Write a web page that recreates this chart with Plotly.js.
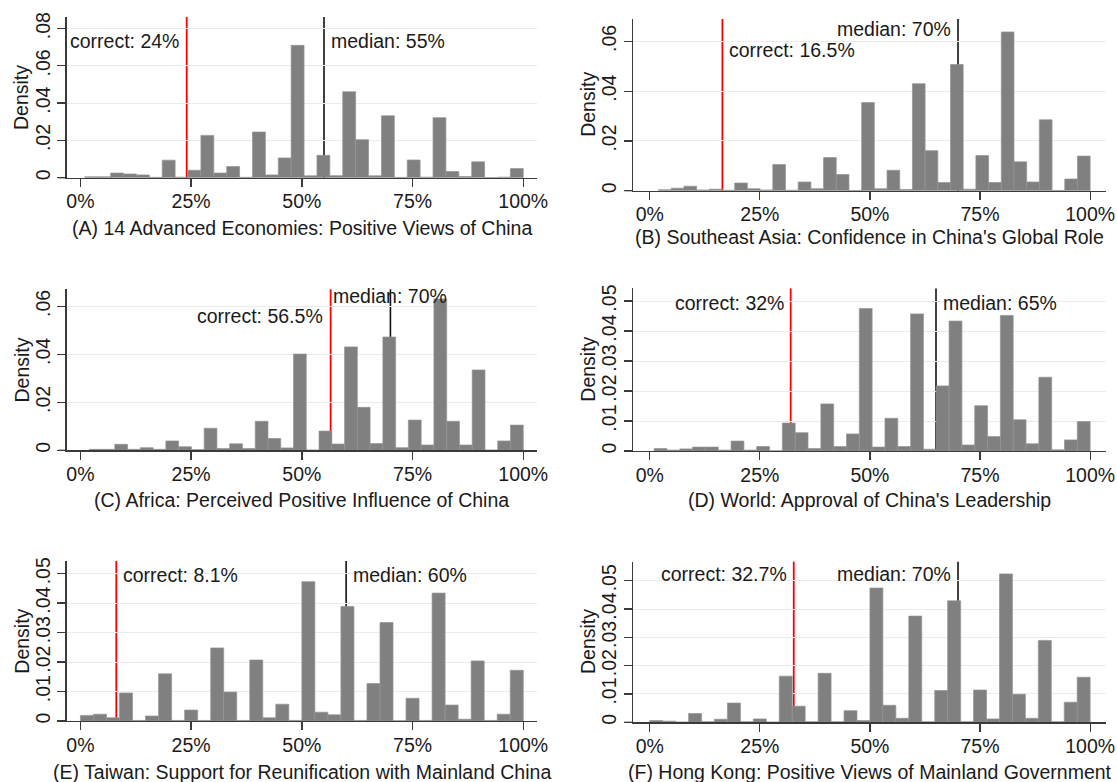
<!DOCTYPE html>
<html><head><meta charset="utf-8">
<script src="https://cdn.plot.ly/plotly-3.0.1.min.js"></script>
<style>html,body{margin:0;padding:0;background:#fff}#chart{width:1117px;height:782px}</style>
</head><body><div id="chart"></div>
<script>
// ---------------- DATA ----------------
const panelTitles = [
  "(A) 14 Advanced Economies: Positive Views of China",
  "(B) Southeast Asia: Confidence in China's Global Role",
  "(C) Africa: Perceived Positive Influence of China",
  "(D) World: Approval of China's Leadership",
  "(E) Taiwan: Support for Reunification with Mainland China",
  "(F) Hong Kong: Positive Views of Mainland Government"
];
// histogram bins: 34 equal bins from start to 100 (percent)
const binStarts = [1, 2, 2, 1, 0, 0];
const binEnd = 100;
const binCount = 34;

const densA = [0.0005,0.0005,0.0025,0.002,0.0015,0.0002,0.0094,0.0003,0.004,0.0227,0.0025,0.006,0.0002,0.0245,0.0015,0.0106,0.071,0.001,0.012,0.0011,0.0461,0.0204,0.001,0.0332,0.0002,0.0095,0.0003,0.0322,0.0033,0.0006,0.0085,0.0001,0.0003,0.0049];
const densB = [0.0004,0.001,0.0018,0.0003,0.0006,0.0002,0.0031,0.0008,0.0003,0.0105,0.0002,0.0035,0.0008,0.0133,0.0065,0.0001,0.0354,0.0008,0.0082,0.0005,0.043,0.0161,0.0033,0.0507,0.0006,0.0141,0.0033,0.0638,0.0116,0.0035,0.0285,0.0001,0.0047,0.0139];
const densC = [0.0004,0.0004,0.0025,0.0004,0.0011,0.0004,0.0039,0.0015,0.0003,0.0092,0.0007,0.0027,0.0007,0.0121,0.0049,0.001,0.0401,0.0001,0.008,0.0026,0.0431,0.0179,0.0028,0.0472,0.0011,0.0126,0.0022,0.0631,0.0121,0.0022,0.0335,0.0001,0.0039,0.0105];
const densD = [0.0008,0.0003,0.0007,0.0013,0.0013,0.0003,0.0033,0.0003,0.0015,0.0001,0.0093,0.0061,0.0008,0.0157,0.0015,0.0057,0.0475,0.0013,0.0109,0.0015,0.0457,0.0006,0.0217,0.0433,0.002,0.0151,0.0048,0.0452,0.0104,0.0024,0.0246,0.0004,0.0037,0.0098];
const densE = [0.0019,0.0023,0.0011,0.0095,0.0002,0.0017,0.016,0.0002,0.0037,0.0002,0.0248,0.0098,0.0002,0.0207,0.0011,0.0057,0.0002,0.0473,0.003,0.0021,0.0389,0.0002,0.0127,0.0334,0.0001,0.0077,0.0002,0.0434,0.0054,0.0006,0.0204,0.0002,0.0023,0.0172];
const densF = [0.0006,0.0004,0.0001,0.0031,0.0002,0.0011,0.0068,0.0002,0.0012,0.0001,0.0163,0.0057,0.0002,0.0173,0.0002,0.0041,0.0006,0.0474,0.006,0.0014,0.0375,0.0002,0.0112,0.0429,0.0002,0.0114,0.0012,0.0524,0.0099,0.0014,0.0289,0.0002,0.0071,0.0159];

const correctValues = [24, 16.5, 56.5, 32, 8.1, 32.7];
const medianValues  = [55, 70, 70, 65, 60, 70];

const xTickVals = [0, 25, 50, 75, 100];
const xTickText = ["0%", "25%", "50%", "75%", "100%"];
const yTickValsA = [0, 0.02, 0.04, 0.06, 0.08];
const yTickTextA = ["0", ".02", ".04", ".06", ".08"];
const yTickValsBC = [0, 0.02, 0.04, 0.06];
const yTickTextBC = ["0", ".02", ".04", ".06"];
const yTickValsDEF = [0, 0.01, 0.02, 0.03, 0.04, 0.05];
const yTickTextDEF = ["0", ".01", ".02", ".03", ".04", ".05"];
const yAxisTitle = "Density";

// ---------------- LAYOUT ----------------
const W = 1117, H = 782;
const FONT = "Liberation Sans, Arial, sans-serif";
const FS = 19.5;
const TXT = "#1a1a1a";
const AX = "#3a3a3a";

const allDens = [densA, densB, densC, densD, densE, densF];
const yVals = [yTickValsA, yTickValsBC, yTickValsBC, yTickValsDEF, yTickValsDEF, yTickValsDEF];
const yText = [yTickTextA, yTickTextBC, yTickTextBC, yTickTextDEF, yTickTextDEF, yTickTextDEF];

// pixel boxes for the plot areas
const boxes = [
  {l: 66.7, r: 537,  t: 17,    b: 177.7, ymax: 0.0862, xr: [-3.1, 103.1], tY: 228},
  {l: 633,  r: 1106, t: 19,    b: 190.7, ymax: 0.069,  xr: [-3.8, 103.6], tY: 237},
  {l: 66.7, r: 537,  t: 289.3, b: 450.3, ymax: 0.0671, xr: [-3.1, 103.1], tY: 500},
  {l: 633,  r: 1106, t: 288.4, b: 451,   ymax: 0.0542, xr: [-3.8, 103.6], tY: 500},
  {l: 66.7, r: 537,  t: 561,   b: 721,   ymax: 0.0543, xr: [-3.1, 103.1], tY: 772},
  {l: 633,  r: 1106, t: 561.7, b: 722.3, ymax: 0.0567, xr: [-3.8, 103.6], tY: 772}
];
// label placement: anchor, pixel shift, y pixel
const labelPos = [
  {c: ["right", -6, 41],   m: ["left", 5, 41]},
  {c: ["left", 5, 49.5],   m: ["right", -5, 28.5]},
  {c: ["right", -6, 315.5],m: ["center", 0, 296]},
  {c: ["right", -5, 303],  m: ["left", 5, 303]},
  {c: ["left", 5, 575],    m: ["left", 5, 575]},
  {c: ["right", -5, 574],  m: ["right", -5, 574]}
];

const traces = [];
const layout = {
  width: W, height: H,
  margin: {l: 0, r: 0, t: 0, b: 0},
  paper_bgcolor: "#ffffff", plot_bgcolor: "#ffffff",
  showlegend: false,
  font: {family: FONT, size: FS, color: TXT},
  bargap: 0,
  shapes: [], annotations: []
};

for (let i = 0; i < 6; i++) {
  const n = i + 1;
  const xa = "x" + n, ya = "y" + n;
  const bx = boxes[i];
  const w = (binEnd - binStarts[i]) / binCount;
  const centers = allDens[i].map((_, k) => binStarts[i] + w * (k + 0.5));
  traces.push({
    type: "bar", x: centers, y: allDens[i], width: w,
    xaxis: xa, yaxis: ya,
    marker: {color: "#808080", line: {color: "#939393", width: 0.7}},
    hoverinfo: "x+y"
  });
  layout[i === 0 ? "xaxis" : "xaxis" + n] = {
    domain: [bx.l / W, bx.r / W], anchor: ya, range: bx.xr,
    tickmode: "array", tickvals: xTickVals, ticktext: xTickText,
    ticks: "outside", ticklen: 8, tickwidth: 1.3, tickcolor: AX,
    showline: true, linecolor: AX, linewidth: 1.3,
    showgrid: false, zeroline: false,
    tickfont: {family: FONT, size: FS, color: TXT}, ticklabelstandoff: -2
  };
  layout[i === 0 ? "yaxis" : "yaxis" + n] = {
    domain: [1 - bx.b / H, 1 - bx.t / H], anchor: xa, range: [0, bx.ymax],
    tickmode: "array", tickvals: yVals[i], ticktext: yText[i], tickangle: -90,
    ticks: "outside", ticklen: 8, tickwidth: 1.3, tickcolor: AX,
    showline: true, linecolor: AX, linewidth: 1.3,
    showgrid: true, gridcolor: "#ebebeb", gridwidth: 1, zeroline: false,
    tickfont: {family: FONT, size: FS, color: TXT}
  };
  // short extension of the x-axis line to the left of the y axis (Stata style)
  layout.shapes.push({type: "line", xref: "paper", yref: "paper", x0: (bx.l - 8.5) / W, x1: bx.l / W,
    y0: 1 - bx.b / H, y1: 1 - bx.b / H, line: {color: AX, width: 1.3}});
  // reference lines (behind bars)
  layout.shapes.push({type: "line", xref: xa, yref: ya + " domain", x0: correctValues[i], x1: correctValues[i], y0: 0, y1: 1,
    line: {color: "#ff0000", width: 1.8}, layer: "below"});
  layout.shapes.push({type: "line", xref: xa, yref: ya + " domain", x0: medianValues[i], x1: medianValues[i], y0: 0, y1: 1,
    line: {color: "#111111", width: 1.6}, layer: "below"});
  const lp = labelPos[i];
  layout.annotations.push({xref: xa, yref: "paper", x: correctValues[i], y: 1 - lp.c[2] / H,
    xanchor: lp.c[0], yanchor: "middle", xshift: lp.c[1], showarrow: false,
    text: "correct: " + correctValues[i] + "%", font: {family: FONT, size: FS, color: TXT}});
  layout.annotations.push({xref: xa, yref: "paper", x: medianValues[i], y: 1 - lp.m[2] / H,
    xanchor: lp.m[0], yanchor: "middle", xshift: lp.m[1], showarrow: false,
    text: "median: " + medianValues[i] + "%", font: {family: FONT, size: FS, color: TXT}});
  // panel caption (x-axis title)
  layout.annotations.push({xref: "paper", yref: "paper", x: ((bx.l + bx.r) / 2) / W, y: 1 - bx.tY / H,
    xanchor: "center", yanchor: "middle", showarrow: false, text: panelTitles[i],
    font: {family: FONT, size: FS, color: TXT}});
  // y-axis title
  layout.annotations.push({xref: "paper", yref: "paper", x: (bx.l - 45) / W, y: 1 - ((bx.t + bx.b) / 2) / H,
    xanchor: "center", yanchor: "middle", showarrow: false, text: yAxisTitle, textangle: -90,
    font: {family: FONT, size: FS, color: TXT}});
}

Plotly.newPlot("chart", traces, layout, {displayModeBar: false, staticPlot: true});
</script>
</body></html>
